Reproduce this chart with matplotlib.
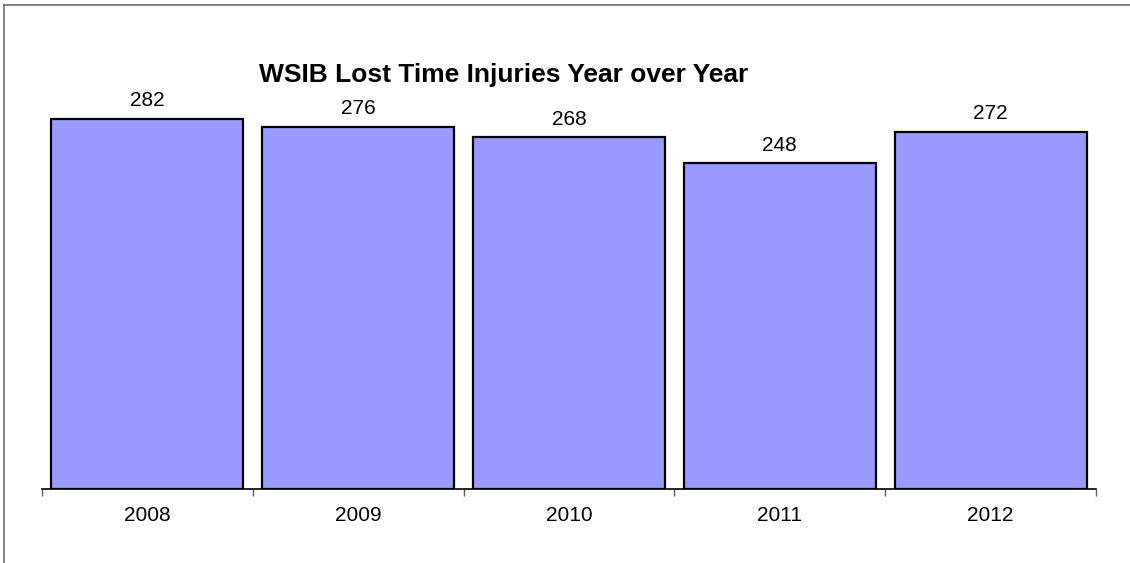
import matplotlib
matplotlib.use('Agg')
import matplotlib.pyplot as plt
from matplotlib.lines import Line2D
import numpy as np

plt.rcParams['font.family'] = ['Liberation Sans', 'DejaVu Sans']

years = ['2008', '2009', '2010', '2011', '2012']
injuries = [282, 276, 268, 248, 272]

W, H = 1130, 563
fig = plt.figure(figsize=(W / 100, H / 100), dpi=100)

# plot area in pixels: left 42, right 1096, baseline 489, top 95 (y = 300)
left, right, bottom, top = 42, 1096, 489, 95
ax = fig.add_axes([left / W, 1 - bottom / H, (right - left) / W, (bottom - top) / H])

x = np.arange(len(years))
ax.bar(x, injuries, width=0.91, color='#9999FF', edgecolor='black', linewidth=1.6, zorder=2)

for xi, v in zip(x, injuries):
    ax.annotate(str(v), (xi, v), xytext=(0, 6), textcoords='offset points',
                ha='center', va='bottom', fontsize=15, color='black')

ax.set_xlim(-0.5, len(years) - 0.5)
ax.set_ylim(0, 300)
ax.set_yticks([])

# category labels centred, tick marks at the boundaries between categories
ax.set_xticks(x)
ax.set_xticklabels(years, fontsize=15)
ax.tick_params(axis='x', which='major', length=0, pad=12.5)
ax.set_xticks(np.arange(-0.5, len(years)), minor=True)
ax.tick_params(axis='x', which='minor', length=5, width=1, color='#606060', direction='out')

for side in ('top', 'right', 'left'):
    ax.spines[side].set_visible(False)
ax.spines['bottom'].set_linewidth(1.2)
ax.spines['bottom'].set_zorder(3)

fig.text(504 / W, 1 - 75 / H, 'WSIB Lost Time Injuries Year over Year',
         ha='center', va='center', fontsize=19, fontweight='bold')

# outer chart frame (left and top edges)
fig.add_artist(Line2D([4 / W, 4 / W], [0, 1 - 5 / H], transform=fig.transFigure,
                      color='#6e6e6e', linewidth=1.2))
fig.add_artist(Line2D([4 / W, 1], [1 - 5 / H, 1 - 5 / H], transform=fig.transFigure,
                      color='#6e6e6e', linewidth=1.2))

fig.savefig('out.png', dpi=100)
